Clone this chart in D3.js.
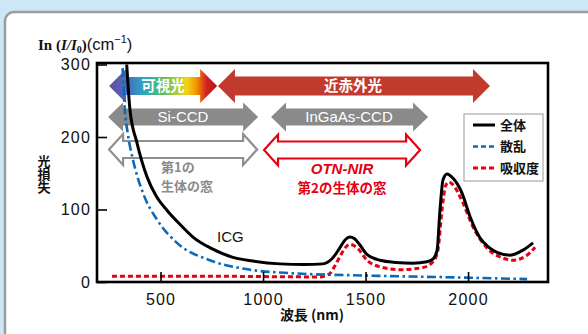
<!DOCTYPE html>
<html>
<head>
<meta charset="utf-8">
<script src="https://cdn.jsdelivr.net/npm/d3@7"></script>
<style>
  html, body { margin: 0; padding: 0; background: #cbe7f8; }
  svg { display: block; }
</style>
</head>
<body>
<svg id="chart" width="588" height="334"></svg>
<script>
// Optical loss spectra of tissue (wavelength in nm, loss in cm^-1)
const totalLoss = [
  [335,300],[351,237],[385,192],[434,145],[480,118],[531,99],[600,78],[658,62],[750,46],
  [853,34],[950,29],[1083,25],[1200,24],[1292,25],[1336,32],[1370,45],[1400,58],[1424,62],
  [1445,60],[1470,52],[1507,38],[1570,30],[1650,27],[1731,26],[1800,28],[1830,32],[1849,44],
  [1863,99],[1878,141],[1897,149],[1927,143],[1970,123],[2010,90],[2058,61],[2100,48],
  [2141,41],[2205,37],[2268,44],[2317,54]
];
const scattering = [
  [315,295],[325,240],[340,205],[366,168],[414,123],[483,86],[580,54],[741,30],[936,17],
  [1146,12],[1488,9],[1995,6],[2288,4]
];
const absorbance = [
  [263,8],[700,8],[1278,7],[1310,9],[1327,12],[1350,22],[1375,35],[1400,47],[1424,52],
  [1445,50],[1463,46],[1507,30],[1570,21],[1668,17],[1780,20],[1829,28],[1853,44],[1873,99],
  [1890,132],[1905,138],[1927,134],[1975,109],[2024,76],[2092,47],[2170,33],[2219,30],
  [2288,37],[2327,48]
];
const xTicks = [500, 1000, 1500, 2000];
const yTicks = [0, 100, 200, 300];
const legendLabels = ["全体", "散乱", "吸収度"];

// Wavelength bands drawn as arrows [from nm, to nm]
const visibleBand = [249, 776];
const nirBand = [780, 2107];
const siCcdBand = [244, 976];
const ingaasBand = [1039, 1805];
const window1Band = [244, 976];
const window2Band = [1000, 1771];

const svg = d3.select("#chart");

// card
svg.append("rect").attr("x", 5).attr("y", 12).attr("width", 620).attr("height", 360)
  .attr("rx", 9).attr("fill", "#fff").attr("stroke", "#9b9b9b").attr("stroke-width", 2.5);

const plotL = 97, plotR = 548, plotT = 63, plotB = 282;
const x = d3.scaleLinear().domain([190, 2390]).range([plotL, plotR]);
const y = d3.scaleLinear().domain([0, 300]).range([plotB, 64.5]);

const numFont = "'Liberation Sans', Arial, sans-serif";
const jpFont = "'Noto Sans CJK JP', sans-serif";
const serifFont = "'Liberation Serif', 'Times New Roman', serif";

// defs: gradient + clip
const defs = svg.append("defs");
const grad = defs.append("linearGradient").attr("id", "visGrad")
  .attr("x1", "0%").attr("x2", "100%").attr("y1", "0%").attr("y2", "0%");
[["0%","#6a4a9c"],["18%","#4a6fc0"],["32%","#2aa7c2"],["48%","#55b86a"],["62%","#a9cc3a"],
 ["72%","#f3d417"],["81%","#f29300"],["90%","#d2231f"],["100%","#b3121b"]]
  .forEach(([o, c]) => grad.append("stop").attr("offset", o).attr("stop-color", c));
defs.append("clipPath").attr("id", "plotClip").append("rect")
  .attr("x", plotL).attr("y", plotT).attr("width", plotR - plotL).attr("height", plotB - plotT);

// double-headed arrow path
function arrowPath(x0, x1, cy, hh, bh, hl) {
  return `M${x0},${cy} L${x0 + hl},${cy - hh} L${x0 + hl},${cy - bh} L${x1 - hl},${cy - bh} ` +
         `L${x1 - hl},${cy - hh} L${x1},${cy} L${x1 - hl},${cy + hh} L${x1 - hl},${cy + bh} ` +
         `L${x0 + hl},${cy + bh} L${x0 + hl},${cy + hh} Z`;
}

const arrows = svg.append("g");
arrows.append("path").attr("d", arrowPath(x(visibleBand[0]), x(visibleBand[1]), 86, 17, 9, 17))
  .attr("fill", "url(#visGrad)");
arrows.append("path").attr("d", arrowPath(x(nirBand[0]), x(nirBand[1]), 86, 17, 9.5, 17))
  .attr("fill", "#c2392e");
arrows.append("path").attr("d", arrowPath(x(siCcdBand[0]), x(siCcdBand[1]), 117, 14.5, 8.5, 15))
  .attr("fill", "#8a8a8a");
arrows.append("path").attr("d", arrowPath(x(ingaasBand[0]), x(ingaasBand[1]), 117, 14.5, 8.5, 15))
  .attr("fill", "#8a8a8a");
arrows.append("path").attr("d", arrowPath(x(window1Band[0]) + 1, x(window1Band[1]) - 1, 149.5, 15.5, 8.5, 14))
  .attr("fill", "#fff").attr("stroke", "#8f8f8f").attr("stroke-width", 2.2).attr("stroke-linejoin", "miter");
arrows.append("path").attr("d", arrowPath(x(window2Band[0]) + 1, x(window2Band[1]) - 1, 150, 15.5, 8.5, 14))
  .attr("fill", "#fff").attr("stroke", "#e60012").attr("stroke-width", 2.2).attr("stroke-linejoin", "miter");

const lbl = svg.append("g").attr("font-family", jpFont).attr("font-weight", 700);
lbl.append("text").attr("x", 163).attr("y", 86).attr("dy", "0.35em").attr("text-anchor", "middle")
  .attr("font-size", 14.5).attr("fill", "#fff").text("可視光");
lbl.append("text").attr("x", 353).attr("y", 86).attr("dy", "0.35em").attr("text-anchor", "middle")
  .attr("font-size", 14.5).attr("fill", "#fff").text("近赤外光");
lbl.append("text").attr("x", 183).attr("y", 117).attr("dy", "0.36em").attr("text-anchor", "middle")
  .attr("font-family", numFont).attr("font-weight", 400)
  .attr("font-size", 15).attr("fill", "#fff").text("Si-CCD");
lbl.append("text").attr("x", 349).attr("y", 117).attr("dy", "0.36em").attr("text-anchor", "middle")
  .attr("font-family", numFont).attr("font-weight", 400)
  .attr("font-size", 15).attr("fill", "#fff").text("InGaAs-CCD");

// two-line label for the first biological window
const w1 = lbl.append("text").attr("x", 161).attr("y", 167.5).attr("font-size", 13).attr("fill", "#8a8a8a");
w1.append("tspan").attr("x", 161).attr("dy", "0.35em").text("第1の");
w1.append("tspan").attr("x", 161).attr("dy", 19).text("生体の窓");

// two-line label for the second biological window
const w2 = lbl.append("text").attr("x", 342).attr("y", 168.5).attr("text-anchor", "middle").attr("fill", "#e60012");
w2.append("tspan").attr("x", 342).attr("dy", "0.35em").attr("font-family", numFont)
  .attr("font-style", "italic").attr("font-size", 15).text("OTN-NIR");
w2.append("tspan").attr("x", 342).attr("dy", 19).attr("font-size", 13.5).text("第2の生体の窓");

lbl.append("text").attr("x", 217).attr("y", 237).attr("dy", "0.36em")
  .attr("font-family", numFont).attr("font-weight", 400)
  .attr("font-size", 15).attr("fill", "#111").text("ICG");

// curves
const line = d3.line().x(d => x(d[0])).y(d => y(d[1])).curve(d3.curveMonotoneX);
const curves = svg.append("g").attr("clip-path", "url(#plotClip)");
curves.append("path").datum(absorbance).attr("d", line).attr("fill", "none")
  .attr("stroke", "#e60012").attr("stroke-width", 3).attr("stroke-dasharray", "5,3");
curves.append("path").datum(scattering).attr("d", line).attr("fill", "none")
  .attr("stroke", "#0a6ab8").attr("stroke-width", 2.6).attr("stroke-dasharray", "9,3.5,2.5,3.5");
curves.append("path").datum(totalLoss).attr("d", line).attr("fill", "none")
  .attr("stroke", "#000").attr("stroke-width", 3).attr("stroke-linejoin", "round");

// axes with inward ticks
const xAxis = d3.axisBottom(x).tickValues(xTicks).tickFormat(d3.format("d")).tickSize(-10).tickPadding(18);
const yAxis = d3.axisLeft(y).tickValues(yTicks).tickFormat(d3.format("d")).tickSize(-10).tickPadding(17);
const gx = svg.append("g").attr("transform", `translate(0,${plotB})`).call(xAxis);
const gy = svg.append("g").attr("transform", `translate(${plotL},0)`).call(yAxis);
[gx, gy].forEach(g => {
  g.select(".domain").remove();
  g.selectAll(".tick line").attr("stroke", "#000").attr("stroke-width", 1.6);
  g.selectAll(".tick text").attr("font-family", numFont).attr("font-size", 16)
    .attr("letter-spacing", "1.2px").attr("fill", "#111");
});
gx.selectAll(".tick text").attr("y", 12).attr("dy", "0.71em");
gy.selectAll(".tick text").attr("x", -6);

// frame
svg.append("rect").attr("x", plotL).attr("y", plotT).attr("width", plotR - plotL).attr("height", plotB - plotT)
  .attr("fill", "none").attr("stroke", "#000").attr("stroke-width", 2.6);

// legend
const lg = svg.append("g");
lg.append("rect").attr("x", 464).attr("y", 114).attr("width", 79).attr("height", 67)
  .attr("fill", "#fff").attr("stroke", "#9a9a9a").attr("stroke-width", 1);
const legendStyles = [
  { stroke: "#000", dash: null, w: 3 },
  { stroke: "#0a6ab8", dash: "5,3", w: 2.6 },
  { stroke: "#e60012", dash: "5,3", w: 3 }
];
legendLabels.forEach((t, i) => {
  const yy = 125 + i * 21.5;
  lg.append("line").attr("x1", 473).attr("x2", 495).attr("y1", yy).attr("y2", yy)
    .attr("stroke", legendStyles[i].stroke).attr("stroke-width", legendStyles[i].w)
    .attr("stroke-dasharray", legendStyles[i].dash);
  lg.append("text").attr("x", 500).attr("y", yy).attr("dy", "0.36em")
    .attr("font-family", jpFont).attr("font-weight", 700).attr("font-size", 13)
    .attr("fill", "#111").text(t);
});

// y-axis title: ln(I/I0) (cm^-1)
const yt = svg.append("text").attr("x", 38).attr("y", 50).attr("fill", "#111");
yt.append("tspan").attr("font-family", serifFont).attr("font-weight", 700).attr("font-size", 15).text("In ");
yt.append("tspan").attr("font-family", serifFont).attr("font-weight", 700).attr("font-size", 15).text("(");
yt.append("tspan").attr("font-family", serifFont).attr("font-weight", 700).attr("font-size", 15)
  .attr("font-style", "italic").text("I/I");
yt.append("tspan").attr("font-family", serifFont).attr("font-weight", 700)
  .attr("font-size", 10).attr("dy", 3).text("0");
yt.append("tspan").attr("font-family", serifFont).attr("font-weight", 700).attr("font-size", 15)
  .attr("dy", -3).text(")");
yt.append("tspan").attr("font-family", numFont).attr("font-size", 16.5).text("(cm");
yt.append("tspan").attr("font-family", numFont).attr("font-size", 11).attr("dy", -7).text("−1");
yt.append("tspan").attr("font-family", numFont).attr("font-size", 16.5).attr("dy", 7).text(")");

// vertical y-axis label
svg.append("text").attr("x", 44).attr("y", 155)
  .style("writing-mode", "vertical-rl")
  .attr("font-family", jpFont).attr("font-weight", 700).attr("font-size", 13)
  .attr("fill", "#111").text("光損失");

svg.append("text").attr("x", 312).attr("y", 315).attr("dy", "0.36em").attr("text-anchor", "middle")
  .attr("font-family", jpFont).attr("font-weight", 700).attr("font-size", 14)
  .attr("fill", "#111").text("波長 (nm)");
</script>
</body>
</html>
